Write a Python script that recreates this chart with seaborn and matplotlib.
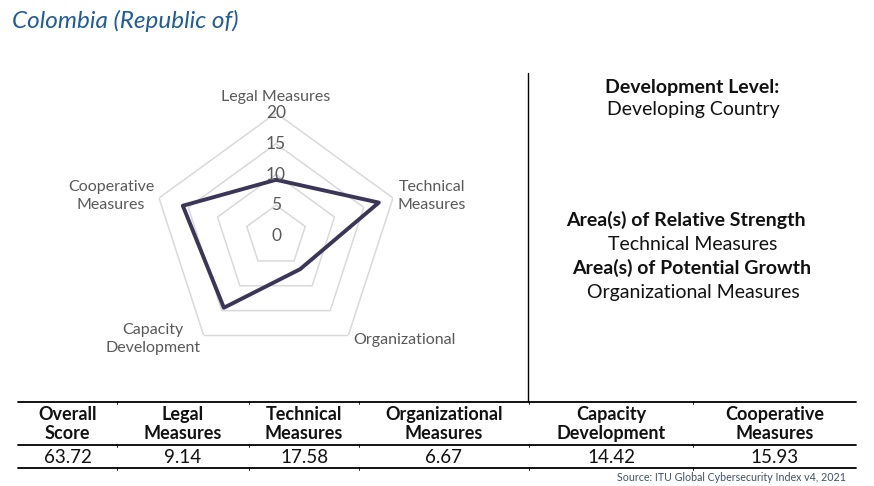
import matplotlib
matplotlib.use("Agg")
import numpy as np
import pandas as pd
import seaborn as sns
import matplotlib.pyplot as plt
from matplotlib.lines import Line2D

# ---------------- data ----------------
title = "Colombia (Republic of)"
categories = ["Legal Measures", "Technical Measures", "Organizational Measures",
              "Capacity Development", "Cooperative Measures"]
axis_labels = ["Legal Measures", "Technical\nMeasures", "Organizational",
               "Capacity\nDevelopment", "Cooperative\nMeasures"]
scores = [9.14, 17.58, 6.67, 14.42, 15.93]
overall_score = 63.72
ring_ticks = [0, 5, 10, 15, 20]
table_headers = ["Overall\nScore", "Legal\nMeasures", "Technical\nMeasures",
                 "Organizational\nMeasures", "Capacity\nDevelopment", "Cooperative\nMeasures"]
dev_level = "Developing Country"
strength = "Technical Measures"
growth = "Organizational Measures"
source = "Source: ITU Global Cybersecurity Index v4, 2021"

# ---------------- style ----------------
sns.set_theme(style="white")
plt.rcParams["font.family"] = ["Lato", "DejaVu Sans"]

W, H = 874, 486
fig = plt.figure(figsize=(W / 100, H / 100), dpi=100)
fig.patch.set_facecolor("white")

def fx(px):
    return px / W

def fy(py):
    return 1 - py / H

GRAY = "#595959"
LINE = "#3b3657"
GRID = "#d9d9d9"
DARK = "#111111"

# ---------------- radar ----------------
cx, cy, R = 276, 236, 123
ax = fig.add_axes([fx(cx - R), fy(cy + R), 2 * R / W, 2 * R / H], projection="polar")
ax.set_theta_offset(np.pi / 2)
ax.set_theta_direction(-1)
ax.grid(False)
ax.spines["polar"].set_visible(False)
ax.patch.set_alpha(0)

n = len(categories)
theta = np.linspace(0, 2 * np.pi, n, endpoint=False)
theta_closed = np.append(theta, 2 * np.pi)

for t in ring_ticks[1:]:
    ax.plot(theta_closed, [t] * (n + 1), color=GRID, lw=1.1, zorder=1)

df = pd.DataFrame({"theta": theta_closed, "score": scores + [scores[0]]})
sns.lineplot(data=df, x="theta", y="score", sort=False, ax=ax,
             color=LINE, lw=2.8, zorder=3, estimator=None)
ax.set_xlabel("")
ax.set_ylabel("")
ax.set_xticks([])
ax.set_yticks([])
ax.set_ylim(0, ring_ticks[-1])

for t in ring_ticks:
    ax.text(0, t, str(t), ha="center", va="center", fontsize=12.5, color=GRAY, zorder=4)

label_pos = [(276, 97), (432, 196), (404, 340), (153, 339), (111, 196)]
for lab, (px, py) in zip(axis_labels, label_pos):
    fig.text(fx(px), fy(py), lab, ha="center", va="center", fontsize=11.5,
             color=GRAY, linespacing=1.3)

# ---------------- title ----------------
fig.text(fx(12), fy(21), title, ha="left", va="center", fontsize=17.5,
         style="italic", color="#1f5c9a")

# ---------------- right panel ----------------
fig.add_artist(Line2D([fx(528), fx(528)], [fy(73), fy(402)], color="black", lw=1))
FS = 14
rows = [(692, 87, "Development Level:", "bold"),
        (693, 110, dev_level, "normal"),
        (686, 220, "Area(s) of Relative Strength", "bold"),
        (693, 244, strength, "normal"),
        (692, 268, "Area(s) of Potential Growth", "bold"),
        (693, 292, growth, "normal")]
for px, py, txt, wt in rows:
    fig.text(fx(px), fy(py), txt, ha="center", va="center", fontsize=FS,
             fontweight=wt, color=DARK)

# ---------------- table ----------------
x0, x1 = 18, 856
for yy in (402, 445, 468):
    fig.add_artist(Line2D([fx(x0), fx(x1)], [fy(yy), fy(yy)], color="black", lw=1.3))
col_bounds = [18, 117, 249, 359, 529, 693, 856]
col_centers = [(a + b) / 2 for a, b in zip(col_bounds[:-1], col_bounds[1:])]
values = [overall_score] + scores
for xc, hdr, val in zip(col_centers, table_headers, values):
    fig.text(fx(xc), fy(424), hdr, ha="center", va="center", fontsize=13,
             fontweight="bold", color=DARK, linespacing=1.1)
    fig.text(fx(xc), fy(457), f"{val:.2f}", ha="center", va="center",
             fontsize=13.5, color=DARK)
for xb in col_bounds[1:-1]:
    for yy in (402, 445, 468):
        fig.add_artist(Line2D([fx(xb), fx(xb)], [fy(yy - 1.5), fy(yy + 1.5)],
                              color="black", lw=0.6))

fig.text(fx(846), fy(477), source, ha="right", va="center", fontsize=7.7, color="#3f4f66")

fig.savefig("out.png", dpi=100)
